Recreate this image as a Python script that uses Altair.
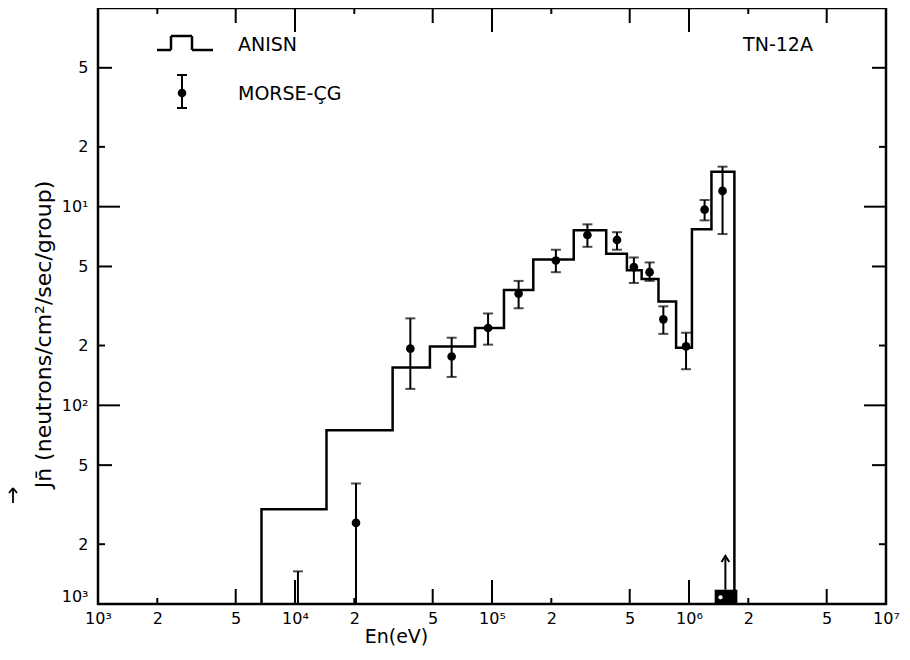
import altair as alt
import pandas as pd

# ---------------- data ----------------
# ANISN group boundaries (eV) and group values
anisn_edges = [6.76e3, 1.445e4, 3.13e4, 4.84e4, 8.2e4, 1.15e5, 1.62e5, 2.6e5,
               3.8e5, 4.84e5, 5.75e5, 7.0e5, 8.6e5, 1.035e6, 1.30e6, 1.70e6]
anisn_values = [3.0e-3, 7.5e-3, 1.55e-2, 1.98e-2, 2.45e-2, 3.81e-2, 5.42e-2, 7.6e-2,
                5.8e-2, 4.78e-2, 4.32e-2, 3.33e-2, 1.95e-2, 7.7e-2, 0.150]

# MORSE-CG points with error bars
morse_E = [2.04e4, 3.85e4, 6.24e4, 9.55e4, 1.365e5, 2.11e5, 3.05e5, 4.31e5,
           5.25e5, 6.31e5, 7.41e5, 9.66e5, 1.20e6, 1.48e6]
morse_val = [2.56e-3, 1.93e-2, 1.76e-2, 2.45e-2, 3.65e-2, 5.36e-2, 7.2e-2, 6.8e-2,
             4.96e-2, 4.68e-2, 2.71e-2, 1.98e-2, 9.66e-2, 0.120]
morse_lo = [1.0e-3, 1.21e-2, 1.39e-2, 2.02e-2, 3.08e-2, 4.68e-2, 6.28e-2, 6.07e-2,
            4.13e-2, 4.23e-2, 2.29e-2, 1.52e-2, 8.53e-2, 7.28e-2]
morse_hi = [4.04e-3, 2.74e-2, 2.19e-2, 2.9e-2, 4.23e-2, 6.07e-2, 8.15e-2, 7.44e-2,
            5.55e-2, 5.24e-2, 3.15e-2, 2.32e-2, 0.108, 0.159]

# upper-limit bar near 10^4 (no point shown)
bound_E = [1.035e4]
bound_hi = [1.46e-3]
# arrow and block marker near 1.5 MeV
arrow_E = [1.53e6]
arrow_lo = [1.18e-3]
arrow_hi = [1.7e-3]
box_E0 = [1.35e6]
box_E1 = [1.76e6]
box_top = [1.18e-3]
box_dot_E = [1.445e6]
box_dot_val = [1.08e-3]

y_floor = 1.0e-3

# axis ticks and labels
x_tick_values = [1e3, 2e3, 5e3, 1e4, 2e4, 5e4, 1e5, 2e5, 5e5, 1e6, 2e6, 5e6, 1e7]
x_tick_labels = ["10³", "2", "5", "10⁴", "2", "5", "10⁵", "2", "5", "10⁶", "2", "5", "10⁷"]
y_tick_values = [1e-3, 2e-3, 5e-3, 1e-2, 2e-2, 5e-2, 1e-1, 2e-1, 5e-1]
y_tick_labels = ["10³", "2", "5", "10²", "2", "5", "10¹", "2", "5"]

x_major = [1e4, 1e5, 1e6]
x_five = [5e3, 5e4, 5e5, 5e6]
x_two = [2e3, 2e4, 2e5, 2e6]
y_major = [1e-2, 1e-1]
y_five = [5e-3, 5e-2, 5e-1]
y_two = [2e-3, 2e-2, 2e-1]

legend_labels = ["ANISN", "MORSE-ÇG"]
case_label = "TN-12A"
x_title = "En(eV)"
y_title = "Jn̄ (neutrons/cm²/sec/group)"

# ---------------- chart ----------------
W, H = 788, 596
FONT = "DejaVu Sans"


def js_list(vals):
    return "[" + ",".join(repr(v) if isinstance(v, float) else '"%s"' % v for v in vals) + "]"


x_label_expr = "%s[indexof(%s, datum.value)]" % (js_list(x_tick_labels), js_list(x_tick_values))
y_label_expr = "%s[indexof(%s, datum.value)]" % (js_list(y_tick_labels), js_list(y_tick_values))

XS = alt.Scale(type="log", domain=[1e3, 1e7], nice=False)
YS = alt.Scale(type="log", domain=[1e-3, 1.0], nice=False)

XAX = alt.Axis(values=x_tick_values, labelExpr=x_label_expr, ticks=False, domain=False,
               grid=False, labelFlush=False, labelFont=FONT, labelFontSize=16,
               labelPadding=6, labelColor="black", title=x_title, titleFont=FONT,
               titleFontSize=19, titleFontWeight="normal", titleX=298, titleY=32,
               titleBaseline="middle", titleColor="black")
YAX = alt.Axis(values=y_tick_values, labelExpr=y_label_expr, ticks=False, domain=False,
               grid=False, labelFlush=True, labelFont=FONT, labelFontSize=16,
               labelPadding=10, labelColor="black", title=y_title, titleFont=FONT,
               titleFontSize=22, titleFontWeight="normal", titleX=-55, titleY=326,
               titleBaseline="middle", titleColor="black")


def X(f):
    return alt.X(f + ":Q", scale=XS, axis=XAX)


def Y(f):
    return alt.Y(f + ":Q", scale=YS, axis=YAX)


# step line vertices built from edges & values
sx, sy = [anisn_edges[0]], [y_floor]
for i, v in enumerate(anisn_values):
    sx += [anisn_edges[i], anisn_edges[i + 1]]
    sy += [v, v]
sx.append(anisn_edges[-1])
sy.append(y_floor)
step_df = pd.DataFrame({"x": sx, "y": sy, "i": list(range(len(sx)))})

step = alt.Chart(step_df).mark_line(color="black", strokeWidth=2.5, strokeJoin="miter",
                                     interpolate="linear").encode(
    x=X("x"), y=Y("y"), order="i:Q")

mdf = pd.DataFrame({"x": morse_E, "y": morse_val, "lo": morse_lo, "hi": morse_hi})
err = alt.Chart(mdf).mark_rule(color="black", strokeWidth=2).encode(
    x=X("x"), y=Y("lo"), y2="hi:Q")
cap_lo = alt.Chart(mdf).mark_tick(color="black", orient="horizontal", size=10,
                                  thickness=2).encode(x=X("x"), y=Y("lo"))
cap_hi = alt.Chart(mdf).mark_tick(color="black", orient="horizontal", size=10,
                                  thickness=2).encode(x=X("x"), y=Y("hi"))
pts = alt.Chart(mdf).mark_circle(color="black", size=75, opacity=1).encode(
    x=X("x"), y=Y("y"))

bdf = pd.DataFrame({"x": bound_E, "lo": [y_floor], "hi": bound_hi})
bound_bar = alt.Chart(bdf).mark_rule(color="black", strokeWidth=2).encode(
    x=X("x"), y=Y("lo"), y2="hi:Q")
bound_cap = alt.Chart(bdf).mark_tick(color="black", orient="horizontal", size=10,
                                     thickness=2).encode(x=X("x"), y=Y("hi"))

adf = pd.DataFrame({"x": arrow_E, "lo": arrow_lo, "hi": arrow_hi})
arrow_shaft = alt.Chart(adf).mark_rule(color="black", strokeWidth=2).encode(
    x=X("x"), y=Y("lo"), y2="hi:Q")
arrow_head = alt.Chart(adf).mark_point(shape="M-1,1 L0,-0.6 L1,1", filled=False,
                                       color="black", strokeWidth=2, size=60,
                                       opacity=1).encode(x=X("x"), y=Y("hi"))

boxdf = pd.DataFrame({"x": box_E0, "x2": box_E1, "lo": [y_floor], "hi": box_top})
box = alt.Chart(boxdf).mark_rect(color="black").encode(
    x=X("x"), x2="x2:Q", y=Y("lo"), y2="hi:Q")
box_dot = alt.Chart(pd.DataFrame({"x": box_dot_E, "y": box_dot_val})).mark_circle(
    color="white", size=18, opacity=1).encode(x=X("x"), y=Y("y"))

# inward ticks on all four sides
tick_layers = []
for vals, L in [(x_major, 24), (x_five, 15), (x_two, 6)]:
    tdf = pd.DataFrame({"x": vals})
    tick_layers.append(alt.Chart(tdf).mark_rule(color="black", strokeWidth=2).encode(
        x=X("x"), y=alt.value(H), y2=alt.value(H - L)))
    tick_layers.append(alt.Chart(tdf).mark_rule(color="black", strokeWidth=2).encode(
        x=X("x"), y=alt.value(0), y2=alt.value(L)))
for vals, L in [(y_major, 22), (y_five, 14), (y_two, 7)]:
    tdf = pd.DataFrame({"y": vals})
    tick_layers.append(alt.Chart(tdf).mark_rule(color="black", strokeWidth=2).encode(
        y=Y("y"), x=alt.value(0), x2=alt.value(L)))
    tick_layers.append(alt.Chart(tdf).mark_rule(color="black", strokeWidth=2).encode(
        y=Y("y"), x=alt.value(W), x2=alt.value(W - L)))

one = pd.DataFrame({"a": [0]})


def seg(x1, y1, x2, y2, w=2.5):
    return alt.Chart(one).mark_rule(color="black", strokeWidth=w).encode(
        x=alt.value(x1), y=alt.value(y1), x2=alt.value(x2), y2=alt.value(y2))


def label(txt, x, y, size=19, align="left", font=FONT):
    return alt.Chart(one).mark_text(text=txt, align=align, baseline="middle",
                                    font=font, fontSize=size, color="black").encode(
        x=alt.value(x), y=alt.value(y))


legend = [
    seg(59, 42, 73, 42), seg(73, 42, 73, 28), seg(73, 28, 94, 28),
    seg(94, 28, 94, 42), seg(94, 42, 115, 42),
    label(legend_labels[0], 140, 37),
    seg(84, 67, 84, 100, 2), seg(79, 67, 89, 67, 2), seg(79, 100, 89, 100, 2),
    alt.Chart(one).mark_circle(color="black", size=75, opacity=1).encode(
        x=alt.value(84), y=alt.value(85)),
    label(legend_labels[1], 140, 86),
    label(case_label, 680, 37, align="center"),
    # vector arrow over J in the rotated axis title
    seg(-85, 481, -85, 495, 1.8), seg(-85, 480, -89, 485, 1.8), seg(-85, 480, -81, 485, 1.8),
]

chart = alt.layer(step, err, cap_lo, cap_hi, pts, bound_bar, bound_cap, arrow_shaft,
                  arrow_head, box, box_dot, *tick_layers, *legend).properties(
    width=W, height=H,
    autosize=alt.AutoSizeParams(type="none"),
    padding={"left": 90, "top": 0, "right": 16, "bottom": 44},
    background="white",
).configure_view(stroke="black", strokeWidth=2.5)

chart.save("out.html", embed_options={"renderer": "svg", "actions": False})
